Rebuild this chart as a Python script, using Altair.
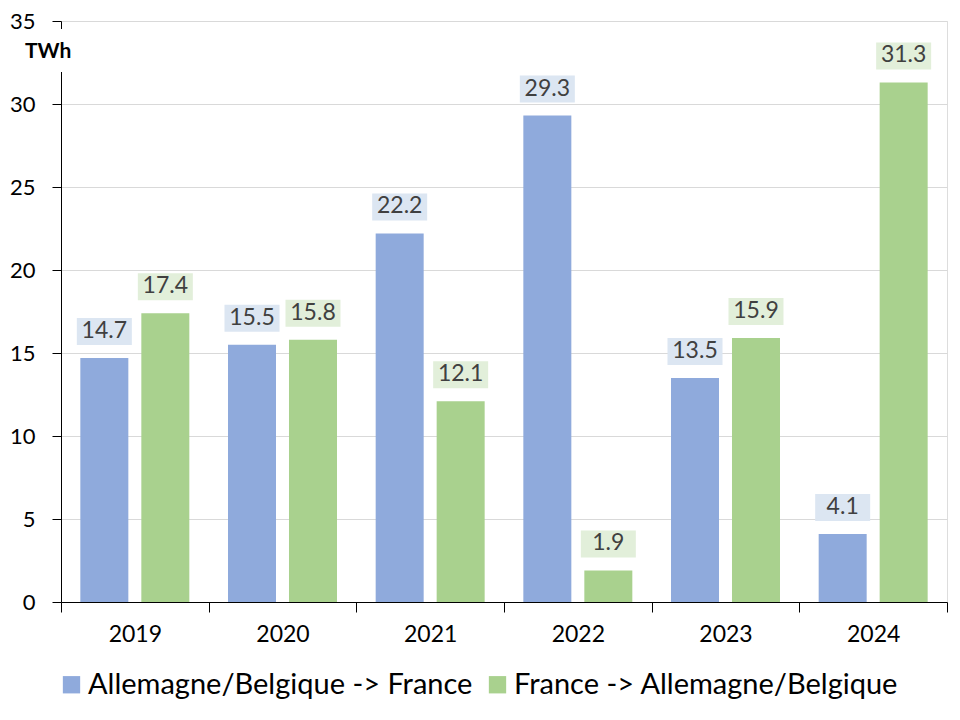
import altair as alt
import pandas as pd

years = ["2019", "2020", "2021", "2022", "2023", "2024"]
series_names = ["Allemagne/Belgique -> France", "France -> Allemagne/Belgique"]
ab_to_fr = [14.7, 15.5, 22.2, 29.3, 13.5, 4.1]
fr_to_ab = [17.4, 15.8, 12.1, 1.9, 15.9, 31.3]

bar_colors = ["#8faadc", "#a9d18e"]
box_colors = ["#dce6f2", "#e2efda"]

rows = []
for i, y in enumerate(years):
    rows.append({"year": y, "series": series_names[0], "value": ab_to_fr[i]})
    rows.append({"year": y, "series": series_names[1], "value": fr_to_ab[i]})
df = pd.DataFrame(rows)
df["label"] = df["value"].map(lambda v: f"{v:.1f}")

FONT = "Lato"

x_enc = alt.X("year:N", sort=years,
              scale=alt.Scale(paddingInner=0, paddingOuter=0),
              axis=alt.Axis(title=None, labelAngle=0, labelFontSize=23, labelColor="#000000",
                            labelFont=FONT, labelPadding=11, tickBand="extent", tickSize=10,
                            tickColor="#000000", domainColor="#000000", domainWidth=1,
                            tickWidth=1, grid=False))
xo_enc = alt.XOffset("series:N", sort=series_names,
                     scale=alt.Scale(paddingInner=0.213, paddingOuter=0.317))
y_scale = alt.Scale(domain=[0, 35], nice=False)

bars = alt.Chart(df).mark_bar().encode(
    x=x_enc,
    xOffset=xo_enc,
    y=alt.Y("value:Q", scale=y_scale,
            axis=alt.Axis(values=[0, 5, 10, 15, 20, 25, 30, 35], title=None,
                          labelFontSize=22, labelFont=FONT, labelColor="#000000",
                          labelPadding=17, tickSize=9, tickColor="#000000",
                          domainColor="#000000", gridColor="#d9d9d9", gridWidth=1)),
    color=alt.Color("series:N", sort=series_names,
                    scale=alt.Scale(domain=series_names, range=bar_colors),
                    legend=alt.Legend(title=None, orient="none", legendX=-4, legendY=649,
                                      direction="horizontal", symbolType="square",
                                      symbolSize=300, symbolStrokeWidth=0, labelLimit=0,
                                      labelFontSize=29, labelFont=FONT, labelColor="#000000",
                                      labelOffset=2, columnPadding=10, symbolOpacity=1)),
)

boxes = alt.Chart(df).mark_bar(width=55, yOffset=-13, y2Offset=-40).encode(
    x=alt.X("year:N", sort=years),
    xOffset=alt.XOffset("series:N", sort=series_names),
    y=alt.Y("value:Q"),
    y2=alt.Y2("value"),
    fill=alt.Fill("series:N", sort=series_names,
                  scale=alt.Scale(domain=series_names, range=box_colors), legend=None),
)

labels = alt.Chart(df).mark_text(dy=-27, baseline="middle", align="center",
                                 fontSize=23, font=FONT, color="#404040").encode(
    x=alt.X("year:N", sort=years),
    xOffset=alt.XOffset("series:N", sort=series_names),
    y=alt.Y("value:Q"),
    text="label:N",
)

axis_gap = alt.Chart(pd.DataFrame({"k": [0]})).mark_rect(color="white").encode(
    x=alt.value(-3), x2=alt.value(3), y=alt.value(8), y2=alt.value(51)
)

unit_title = alt.Chart(pd.DataFrame({"t": ["TWh"]})).mark_text(
    align="left", baseline="middle", font=FONT, fontSize=21, fontWeight="bold",
    color="#000000"
).encode(x=alt.value(-36), y=alt.value(31), text="t:N")

chart = alt.layer(bars, boxes, labels, axis_gap, unit_title).resolve_scale(
    color="independent"
).properties(
    width=886, height=581,
    autosize=alt.AutoSizeParams(type="none"),
    padding={"left": 53, "top": 13, "right": 5, "bottom": 110},
).configure_view(stroke=None).configure(font=FONT)

chart.save("out.html", embed_options={"renderer": "svg", "actions": False})
